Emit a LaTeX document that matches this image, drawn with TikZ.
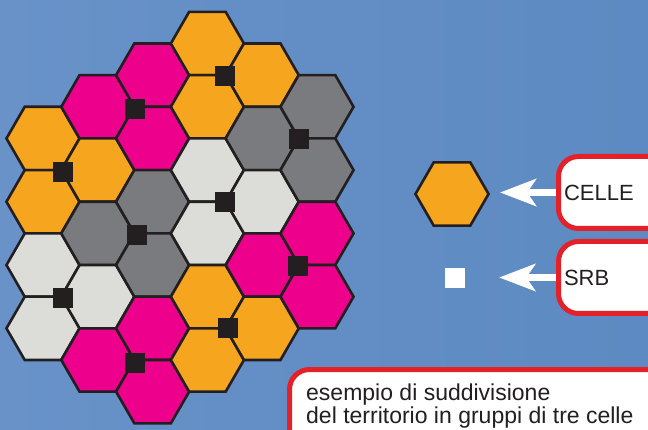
\documentclass[tikz,border=0pt]{standalone}
\usepackage{fontspec}
\setmainfont{Liberation Sans}
\usetikzlibrary{shapes.geometric,arrows.meta}
\definecolor{bgA}{HTML}{6892C8}
\definecolor{bgB}{HTML}{5D8AC2}
\definecolor{cOr}{HTML}{F6A51E}
\definecolor{cPk}{HTML}{EC008C}
\definecolor{cDg}{HTML}{7A7B7E}
\definecolor{cLg}{HTML}{DCDDD8}
\definecolor{cLn}{HTML}{231F20}
\definecolor{cRd}{HTML}{E42128}
\begin{document}
\begin{tikzpicture}[x=1pt,y=-1pt,
  cell/.style={regular polygon, regular polygon sides=6, minimum size=73.1pt,
    inner sep=0pt, draw=cLn, line width=2.6pt, fill=#1},
  srbmark/.style={rectangle, minimum size=20pt, inner sep=0pt, fill=#1},
  tag/.style={rectangle, rounded corners=20pt, draw=cRd, line width=5pt, fill=white,
    minimum height=72pt, text width=100pt, inner xsep=5.5pt, align=left,
    font=\fontsize{22}{26}\selectfont, text=cLn},
  pointer/.style={draw=white, line width=7pt,
    -{Stealth[length=36pt,width=27pt,inset=9pt]}}
]
\clip (0,0) rectangle (648,430);
\shade[left color=bgA, right color=bgB] (0,0) rectangle (648,430);
% hexagonal cells: column / half-row / colour
\foreach \c/\j/\col in {
  0/3/cOr, 0/5/cOr, 0/7/cLg, 0/9/cLg,
  1/2/cPk, 1/4/cOr, 1/6/cDg, 1/8/cLg, 1/10/cPk,
  2/1/cPk, 2/3/cPk, 2/5/cDg, 2/7/cDg, 2/9/cPk, 2/11/cPk,
  3/0/cOr, 3/2/cOr, 3/4/cLg, 3/6/cLg, 3/8/cOr, 3/10/cOr,
  4/1/cOr, 4/3/cDg, 4/5/cLg, 4/7/cPk, 4/9/cOr,
  5/2/cDg, 5/4/cDg, 5/6/cPk, 5/8/cPk}
  \node[cell=\col] (h\c-\j) at ({43+54.8*\c},{43.5+31.65*\j}) {};
% SRB markers
\foreach \n/\x/\y in {1/225/76, 2/135/109, 3/63/172, 4/299/139, 5/225/202,
  6/137/235, 7/63/298, 8/298/266, 9/228/328, 10/135/363}
  \node[srbmark=cLn] (s\n) at (\x,\y) {};
% legend
\node[cell=cOr] (leghex) at (452,194) {};
\node[srbmark=white] (legsrb) at (455,278) {};
\node[tag, anchor=west] (celle) at (556,192.5) {CELLE};
\node[tag, anchor=west] (srbtag) at (556,277.5) {SRB};
\draw[pointer] (celle.west) -- ([xshift=10pt]celle.west -| leghex.east);
\draw[pointer] (srbtag.west) -- ([xshift=34pt]srbtag.west -| legsrb.east);
\node[rectangle, rounded corners=20pt, draw=cRd, line width=5pt, fill=white,
  minimum width=400pt, minimum height=100pt, anchor=north west] (descbox) at (287,367) {};
\node[anchor=base west, align=left, inner sep=0pt, text=cLn,
  font=\fontsize{23}{21.3}\selectfont] (desc) at (306,423)
  {esempio di suddivisione\\del territorio in gruppi di tre celle};
\end{tikzpicture}
\end{document}
